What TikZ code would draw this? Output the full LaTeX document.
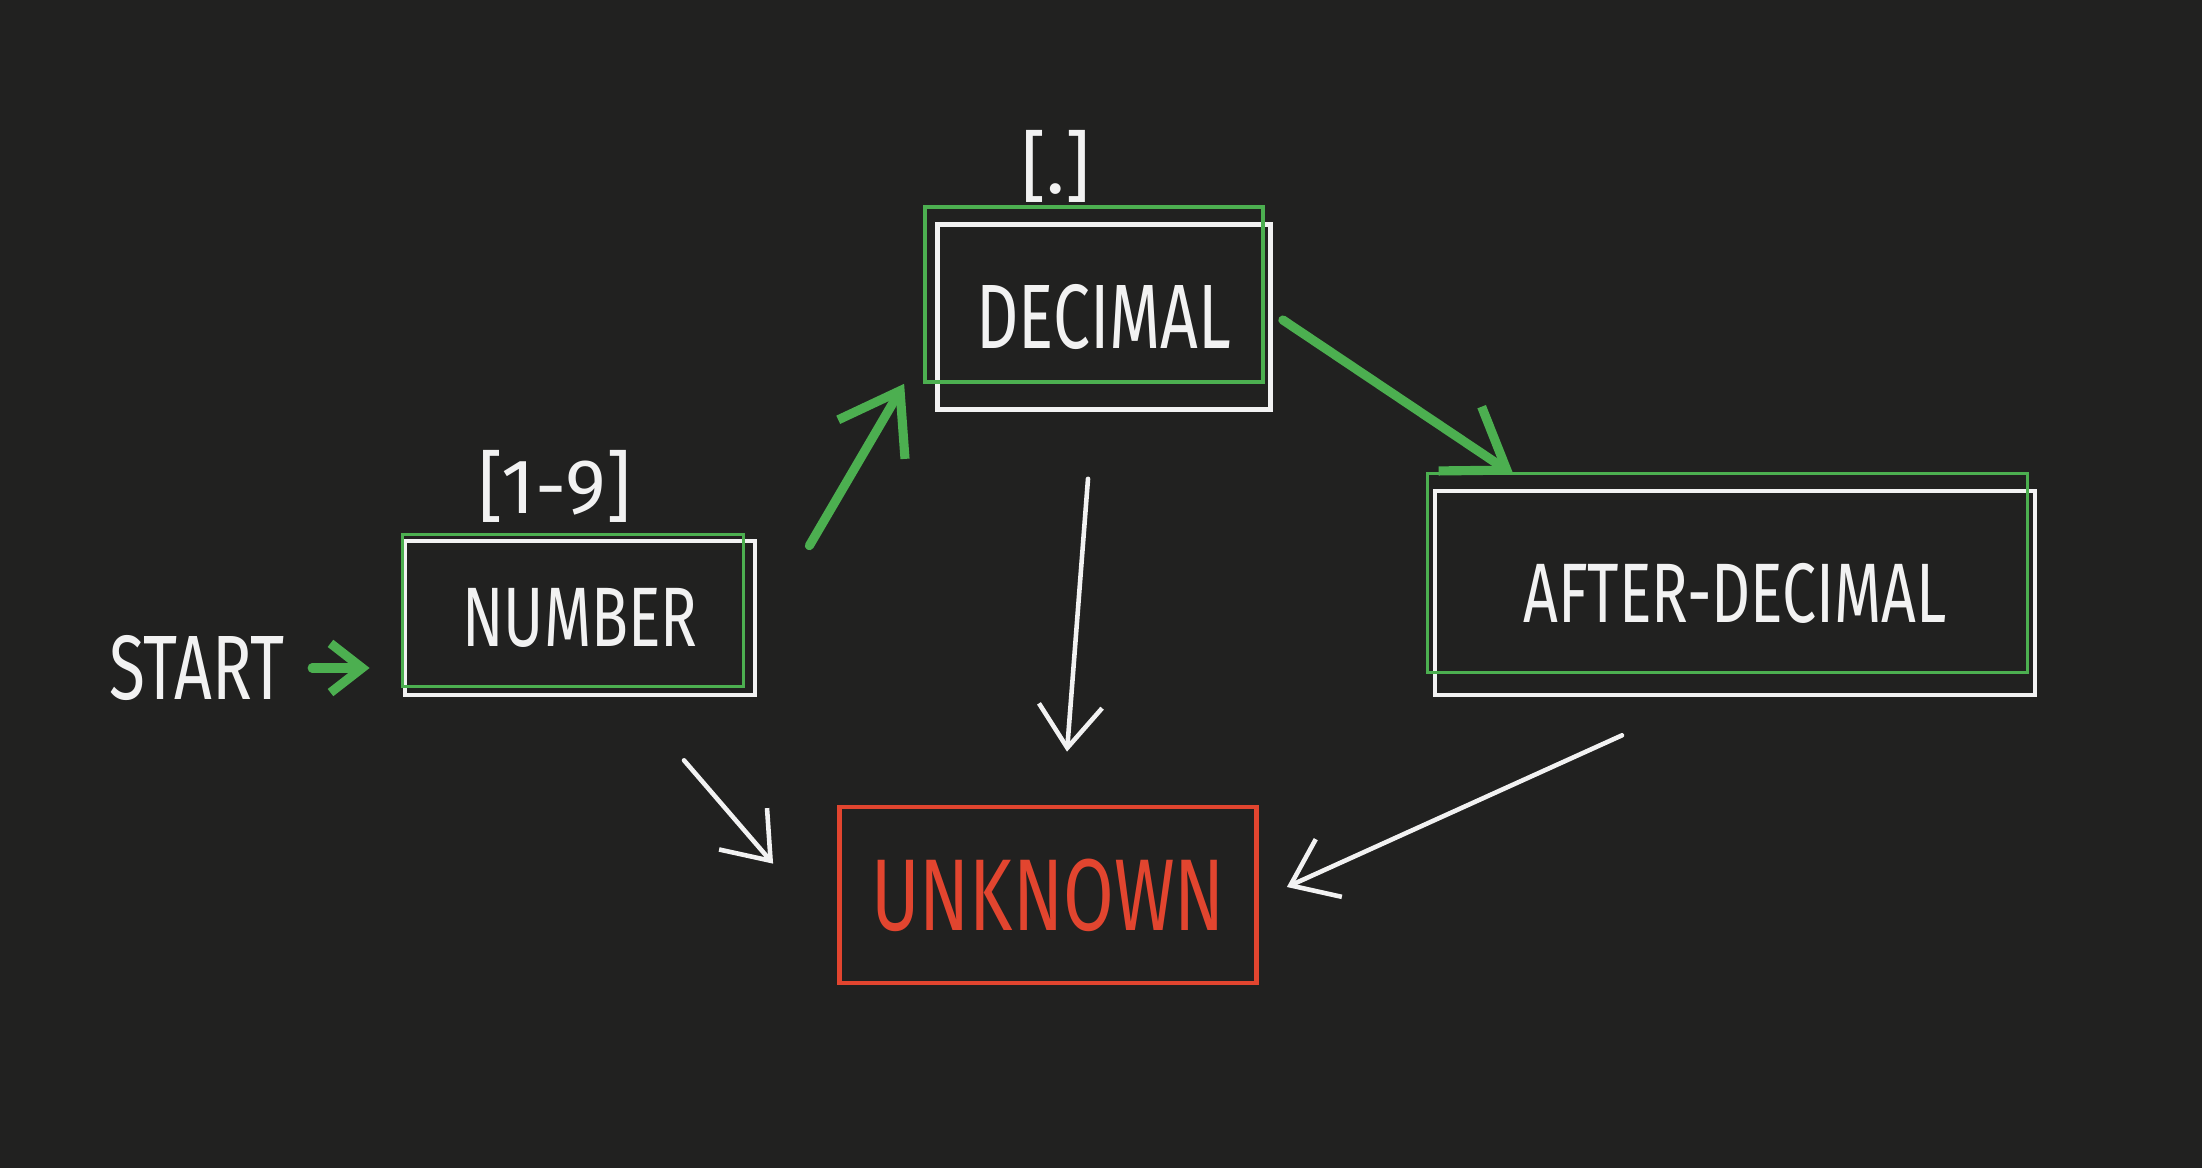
\documentclass[tikz,border=0pt]{standalone}
\usepackage{fontspec}
\setmainfont{Fira Sans}
\newfontfamily\handfont[FakeStretch=0.72]{Fira Sans}
\usepackage{tikz}
\usetikzlibrary{arrows.meta}
\usetikzlibrary{positioning}
\definecolor{board}{HTML}{212120}
\definecolor{chalk}{HTML}{F2F2F2}
\definecolor{leaf}{HTML}{4CAF50}
\definecolor{brick}{HTML}{E2452F}
\tikzstyle{state}=[draw=chalk,line width=1.3pt,text=chalk,font=\handfont\fontsize{24}{28}\selectfont]
\tikzstyle{okline}=[draw=leaf,line width=1pt]
\tikzstyle{pass}=[-{Straight Barb[length=16pt,width=22pt]},leaf,line width=2.6pt,line cap=round]
\tikzstyle{fail}=[-{Straight Barb[length=12pt,width=18pt]},chalk,line width=1.3pt,line cap=round]
\tikzstyle{guard}=[text=chalk,font=\fontsize{22}{26}\selectfont]
\tikzstyle{word}=[text=chalk,font=\handfont\fontsize{26}{30}\selectfont]

\begin{document}
\begin{tikzpicture}[x=0.01cm,y=-0.01cm]
\fill[board] (0,0) rectangle (2202,1168);
\useasboundingbox (0,0) rectangle (2202,1168);

% states
\node [state,minimum width=3.5cm,minimum height=1.54cm] (num) at (580,618) {NUMBER};
\node [state,minimum width=3.33cm,minimum height=1.85cm,font=\handfont\fontsize{26}{30}\selectfont] (dec) at (1104,317) {DECIMAL};
\node [state,minimum width=6cm,minimum height=2.04cm] (aft) at (1735,593) {AFTER-DECIMAL};
\node [state,draw=brick,text=brick,minimum width=4.17cm,minimum height=1.76cm,font=\handfont\fontsize{29}{33}\selectfont] (unk) at (1048,895) {UNKNOWN};

% accepted paths traced over in green
\draw[okline] ([shift={(0,-4)}]num.north west) rectangle ([shift={(-14,-11)}]num.south east);
\draw[okline] ([shift={(-10,-15)}]dec.north west) rectangle ([shift={(-10,-30)}]dec.south east);
\draw[okline] ([shift={(-5,-15)}]aft.north west) rectangle ([shift={(-10,-25)}]aft.south east);

% guards
\node [guard,above=1pt of num,xshift=-0.25cm] (rng) {[1-9]};
\node [guard,above=2pt of dec,xshift=-0.48cm] (dot) {[.]};
\node [word] (start) at (197,668) {START};

% transitions
\draw[pass,-{Straight Barb[length=9pt,width=14pt]},shorten <=0.15cm,shorten >=0.33cm] (start.east) -- (start.east -| num.west);
\draw[pass] ([shift={(52,7)}]num.north east) -- ([shift={(-31,-28)}]dec.south west);
\draw[pass] ([shift={(10,3)}]dec.east) -- ([shift={(81,-14)}]aft.north west);
\draw[fail] ([shift={(104,63)}]num.south) -- ([shift={(-64,59)}]unk.north west);
\draw[fail] ([shift={(-16,67)}]dec.south) -- ([shift={(19,-53)}]unk.north);
\draw[fail] ([shift={(-113,38)}]aft.south) -- ([shift={(28,-8)}]unk.east);
\end{tikzpicture}
\end{document}
